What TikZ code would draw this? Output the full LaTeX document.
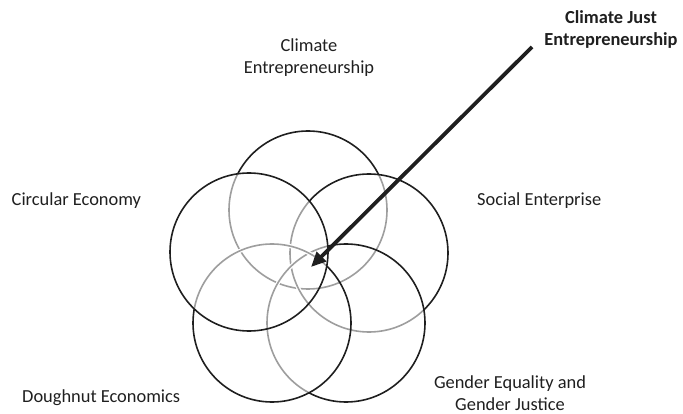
\documentclass[tikz,border=0pt]{standalone}
\usepackage{fontspec}
\setmainfont{Carlito}
\usetikzlibrary{arrows.meta}
\begin{document}
\begin{tikzpicture}[x=1pt,y=-1pt,
  lbl/.style={inner sep=0pt, anchor=base, font=\fontsize{18.4}{22}\selectfont, text=black!88, align=center},
  ring/.style={line width=1.6pt, draw=black!88},
  ringshade/.style={line width=1.6pt, draw=black!38},
  pointer/.style={line width=3.8pt, draw=black!88, -{Triangle[length=15pt,width=13pt]}}
]
\useasboundingbox (0,0) rectangle (683,414);
\def\rr{79}
% ring centres (a regular pentagon)
\coordinate (T)  at (308,210);
\coordinate (R)  at (369,253);
\coordinate (BR) at (346,323);
\coordinate (BL) at (272,323);
\coordinate (L)  at (249,252);

% stacking order, bottom to top: T, R, BR, BL, L
% each ring is dark where nothing lies over it and pale where a later ring covers it
\draw[ring] (T) circle[radius=\rr];
\begin{scope}
  \clip (R) circle[radius=\rr] (BR) circle[radius=\rr] (BL) circle[radius=\rr] (L) circle[radius=\rr];
  \fill[white, even odd rule] (T) circle[radius=\rr+2] (T) circle[radius=\rr-2];
  \draw[ringshade] (T) circle[radius=\rr];
\end{scope}

\draw[ring] (R) circle[radius=\rr];
\begin{scope}
  \clip (BR) circle[radius=\rr] (BL) circle[radius=\rr] (L) circle[radius=\rr];
  \fill[white, even odd rule] (R) circle[radius=\rr+2] (R) circle[radius=\rr-2];
  \draw[ringshade] (R) circle[radius=\rr];
\end{scope}

\draw[ring] (BR) circle[radius=\rr];
\begin{scope}
  \clip (BL) circle[radius=\rr] (L) circle[radius=\rr];
  \fill[white, even odd rule] (BR) circle[radius=\rr+2] (BR) circle[radius=\rr-2];
  \draw[ringshade] (BR) circle[radius=\rr];
\end{scope}

\draw[ring] (BL) circle[radius=\rr];
\begin{scope}
  \clip (L) circle[radius=\rr];
  \fill[white, even odd rule] (BL) circle[radius=\rr+2] (BL) circle[radius=\rr-2];
  \draw[ringshade] (BL) circle[radius=\rr];
\end{scope}

\draw[ring] (L) circle[radius=\rr];

% labels (base anchor = baseline of the last line)
\node[lbl] (ce)  at (309,74) {Climate\\Entrepreneurship};
\node[lbl, anchor=base west] (circ) at (11.5,205.5) {Circular Economy};
\node[lbl, anchor=base west] (soc)  at (477,205.5) {Social Enterprise};
\node[lbl, anchor=base west] (dough) at (22,402.5) {Doughnut Economics};
\node[lbl] (gender) at (510,410.5) {Gender Equality and\\Gender Justice};
\node[lbl, font=\fontsize{18.4}{22}\selectfont\bfseries] (cje) at (611,45.5) {Climate Just\\Entrepreneurship};

% pointer into the common overlap
\coordinate (pstart) at (532,47);
\coordinate (core) at (311,267);
\draw[pointer] (pstart) -- (core);
\end{tikzpicture}
\end{document}
